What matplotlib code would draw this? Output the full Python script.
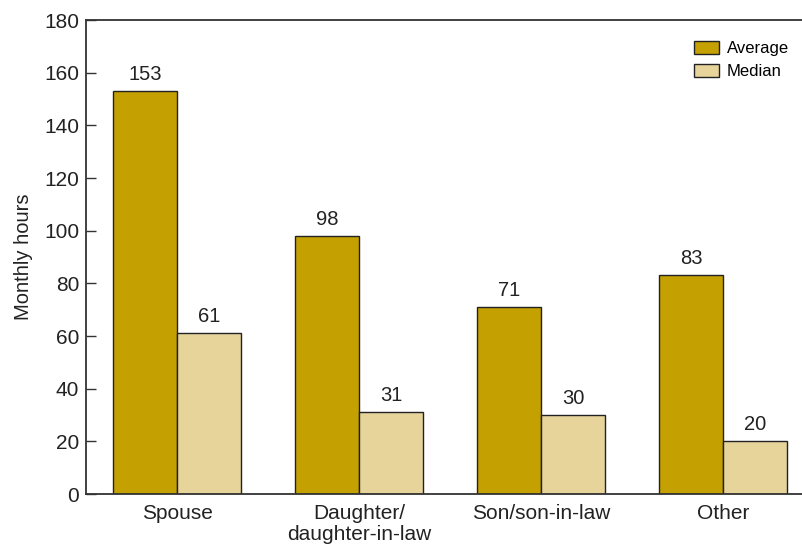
import matplotlib
matplotlib.use("Agg")
import matplotlib.pyplot as plt
import numpy as np

plt.rcParams['font.family'] = ['Liberation Sans', 'DejaVu Sans']

# data
categories = ['Spouse', 'Daughter/\ndaughter-in-law', 'Son/son-in-law', 'Other']
average = [153, 98, 71, 83]
median = [61, 31, 30, 20]

col_avg = '#C4A000'
col_med = '#E6D49B'
txt = '#222222'

fig = plt.figure(figsize=(8.03, 5.52), dpi=100)
# axes box measured in pixels: left 86, top 20, bottom 494, runs off the right edge
ax = fig.add_axes([86 / 803, 58 / 552, 728 / 803, 474 / 552])

x = np.arange(len(categories))
w = 0.352
b1 = ax.bar(x - w / 2, average, w, color=col_avg, edgecolor='#222222', linewidth=1, label='Average')
b2 = ax.bar(x + w / 2, median, w, color=col_med, edgecolor='#222222', linewidth=1, label='Median')

for bars in (b1, b2):
    for r in bars:
        ax.annotate(str(int(r.get_height())), (r.get_x() + r.get_width() / 2, r.get_height()),
                    xytext=(0, 5), textcoords='offset points', ha='center', va='bottom',
                    fontsize=14.5, color=txt)

ax.set_xlim(-0.5, 3.5)
ax.set_ylim(0, 180)
ax.set_yticks(range(0, 181, 20))
ax.set_xticks(x)
ax.set_xticklabels(categories, fontsize=15, color=txt, linespacing=1.12)
ax.tick_params(axis='x', length=0, pad=7)
ax.tick_params(axis='y', direction='in', length=7, width=1, pad=5, labelsize=15,
               labelcolor=txt, color='#333333')
ax.set_ylabel('Monthly hours', fontsize=14.5, color=txt, labelpad=8)

ax.spines['right'].set_visible(False)
for s in ('left', 'top', 'bottom'):
    ax.spines[s].set_color('#333333')
    ax.spines[s].set_linewidth(1.3)

leg = ax.legend(loc='upper right', frameon=False, fontsize=12, handlelength=1.5,
                handleheight=0.85, handletextpad=0.5, labelspacing=0.45,
                borderpad=0, borderaxespad=0)
leg.set_bbox_to_anchor((789 / 803, 1 - 41 / 552), transform=fig.transFigure)
for p in leg.get_patches():
    p.set_edgecolor('#222222')

fig.savefig('out.png', dpi=100)
